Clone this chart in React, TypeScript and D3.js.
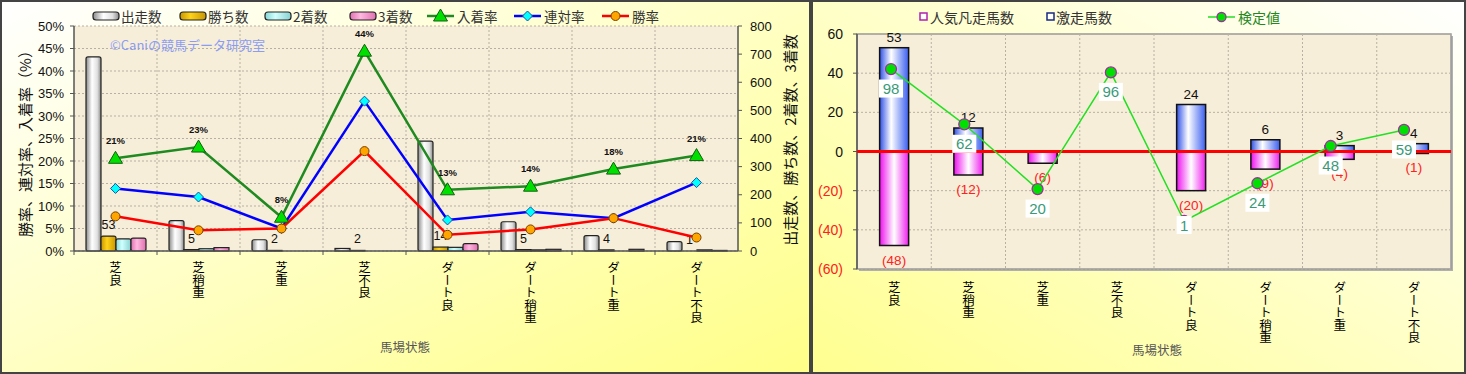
import React from 'react';
import * as d3 from 'd3';

const categories = ['芝良', '芝稍重', '芝重', '芝不良', 'ダート良', 'ダート稍重', 'ダート重', 'ダート不良'];
// left chart counts (right axis)
const runs = [690, 108, 40, 9, 391, 104, 55, 33];
const wins = [53, 5, 2, 2, 14, 5, 4, 1];
const seconds = [43, 8, 0, 1, 13, 4, 0, 4];
const thirds = [46, 12, 1, 1, 26, 6, 6, 2];
// left chart rates (%)
const placeRate = [20.6, 23.1, 7.5, 44.4, 13.6, 14.4, 18.2, 21.2];
const rentaiRate = [13.9, 12.0, 5.0, 33.3, 6.9, 8.7, 7.3, 15.2];
const winRate = [7.7, 4.6, 5.0, 22.2, 3.6, 4.8, 7.3, 3.0];
const placeLabels = ['21%', '23%', '8%', '44%', '13%', '14%', '18%', '21%'];
const leftTicks = [0, 5, 10, 15, 20, 25, 30, 35, 40, 45, 50];
const rightTicks = [0, 100, 200, 300, 400, 500, 600, 700, 800];
// right chart
const gekisou = [53, 12, 0, 0, 24, 6, 3, 4];
const bonsou = [48, 12, 6, 0, 20, 9, 4, 1];
const kentei = [42.1, 13.9, -19.2, 40.4, -35.5, -16.2, 2.8, 11.0];
const kenteiLabels = ['98', '62', '20', '96', '1', '24', '48', '59'];
const rTicks = [60, 40, 20, 0, -20, -40, -60];

const JP = '"Noto Sans CJK JP", "Liberation Sans", sans-serif';
const NUM = '"Liberation Sans", "Noto Sans CJK JP", sans-serif';

function VText({ x, y, text, size = 12.5, color = '#000' }: any) {
  return (
    <text x={x} y={y} fontSize={size} fill={color} fontFamily={JP}
      style={{ writingMode: 'vertical-rl' } as any} textAnchor="start">{text}</text>
  );
}

function LeftChart() {
  const L = 74, R = 738, T = 26, B = 251;
  const x = d3.scaleBand<string>().domain(categories).range([L, R]);
  const yP = d3.scaleLinear().domain([0, 50]).range([B, T]);
  const yC = d3.scaleLinear().domain([0, 800]).range([B, T]);
  const series = [
    { name: '出走数', vals: runs, fill: 'url(#gWhite)' },
    { name: '勝ち数', vals: wins, fill: 'url(#gGold)' },
    { name: '2着数', vals: seconds, fill: 'url(#gCyan)' },
    { name: '3着数', vals: thirds, fill: 'url(#gPink)' },
  ];
  const sub = d3.scaleBand<number>().domain([0, 1, 2, 3]).range([12, 72]);
  const lineGen = (vals: number[]) => d3.line<number>()
    .x((_, i) => (x(categories[i]) as number) + x.bandwidth() / 2)
    .y((v) => yP(v))(vals) as string;
  const cx = (i: number) => (x(categories[i]) as number) + x.bandwidth() / 2;
  const lines = [
    { name: '入着率', vals: placeRate, color: '#1f8a1f', marker: 'tri' },
    { name: '連対率', vals: rentaiRate, color: '#0000ff', marker: 'dia' },
    { name: '勝率', vals: winRate, color: '#ff0000', marker: 'cir' },
  ];
  const marker = (m: string, px: number, py: number, key: any) => {
    if (m === 'tri') return <path key={key} d={`M${px},${py - 7}L${px + 7},${py + 5}L${px - 7},${py + 5}Z`} fill="#00e000" stroke="#106010" strokeWidth={1} />;
    if (m === 'dia') return <path key={key} d={`M${px},${py - 5}L${px + 5},${py}L${px},${py + 5}L${px - 5},${py}Z`} fill="#00ffff" stroke="#2050a0" strokeWidth={1} />;
    return <circle key={key} cx={px} cy={py} r={4.5} fill="#ffa500" stroke="#7a4000" strokeWidth={1} />;
  };
  const barLegX = [93, 180, 265, 350];
  const lineLegX = [427, 514, 602];
  return (
    <g>
      <rect x={1} y={1} width={809} height={372} fill="url(#bgL)" stroke="#444" strokeWidth={2} />
      {/* legend */}
      {series.map((s, i) => (
        <g key={s.name}>
          <rect x={barLegX[i]} y={12} width={26} height={8} rx={3} fill={s.fill} stroke="#222" strokeWidth={1.2} />
          <text x={barLegX[i] + 28} y={21.5} fontSize={13.5} fill="#333" fontFamily={JP}>{s.name}</text>
        </g>
      ))}
      {lines.map((s, i) => (
        <g key={s.name}>
          <line x1={lineLegX[i]} x2={lineLegX[i] + 27} y1={16} y2={16} stroke={s.color} strokeWidth={2.5} />
          {marker(s.marker, lineLegX[i] + 13.5, 16, 'm')}
          <text x={lineLegX[i] + 30} y={21.5} fontSize={13.5} fill="#333" fontFamily={JP}>{s.name}</text>
        </g>
      ))}
      {/* plot bg */}
      <rect x={L} y={T} width={R - L} height={B - T} fill="#f6eed9" />
      {leftTicks.map((t) => (
        <line key={'h' + t} x1={L} x2={R} y1={yP(t)} y2={yP(t)} stroke="#b8b0a0" strokeDasharray="2,2" strokeWidth={1} />
      ))}
      {categories.map((c, i) => i > 0 && (
        <line key={'v' + c} x1={x(c)} x2={x(c)} y1={T} y2={B} stroke="#b8b0a0" strokeDasharray="2,2" strokeWidth={1} />
      ))}
      <text x={110} y={50} fontSize={13} fill="#8c9cf2" fontFamily={JP}>©Caniの競馬データ研究室</text>
      {/* bars */}
      {series.map((s, si) => s.vals.map((v, i) => {
        const bx = (x(categories[i]) as number) + (sub(si) as number);
        const h = B - yC(v);
        if (h < 0.5) return null;
        return <rect key={si + '-' + i} x={bx} y={yC(v)} width={sub.bandwidth()} height={h} rx={h > 4 ? 2 : 0}
          fill={s.fill} stroke="#222" strokeWidth={1.2} />;
      }))}
      {wins.map((v, i) => (
        <text key={'wl' + i} x={(x(categories[i]) as number) + (sub(1) as number) + sub.bandwidth() / 2} y={yC(v) - 7}
          fontSize={12.5} textAnchor="middle" fontFamily={NUM} fill="#111">{v}</text>
      ))}
      {/* axes */}
      <line x1={L} x2={L} y1={T} y2={B} stroke="#555" strokeWidth={1.5} />
      <line x1={R} x2={R} y1={T} y2={B} stroke="#555" strokeWidth={1.5} />
      <line x1={L} x2={R} y1={B} y2={B} stroke="#555" strokeWidth={1.5} />
      {leftTicks.map((t) => (
        <g key={'lt' + t}>
          <line x1={L - 4} x2={L} y1={yP(t)} y2={yP(t)} stroke="#555" />
          <text x={L - 10} y={yP(t) + 4.5} fontSize={13} textAnchor="end" fontFamily={NUM} fill="#111">{t}%</text>
        </g>
      ))}
      {rightTicks.map((t) => (
        <g key={'rt' + t}>
          <line x1={R} x2={R + 4} y1={yC(t)} y2={yC(t)} stroke="#555" />
          <text x={R + 12} y={yC(t) + 4.5} fontSize={13} textAnchor="start" fontFamily={NUM} fill="#111">{t}</text>
        </g>
      ))}
      {categories.map((c, i) => (
        <line key={'xt' + i} x1={(x(c) as number)} x2={(x(c) as number)} y1={B} y2={B + 4} stroke="#555" />
      ))}
      {/* lines */}
      {lines.map((s) => (
        <path key={s.name} d={lineGen(s.vals)} fill="none" stroke={s.color} strokeWidth={2.5} />
      ))}
      {lines.map((s) => s.vals.map((v, i) => marker(s.marker, cx(i), yP(v), s.name + i)))}
      {placeRate.map((v, i) => (
        <text key={'pl' + i} x={cx(i)} y={yP(v) - 14} fontSize={9.5} fontWeight="bold" textAnchor="middle" fontFamily={NUM} fill="#111">{placeLabels[i]}</text>
      ))}
      {/* x labels */}
      {categories.map((c, i) => <VText key={'xl' + i} x={cx(i)} y={261} text={c} />)}
      <text transform="translate(31,140) rotate(-90)" textAnchor="middle" fontSize={15} fontFamily={JP} fill="#111">勝率、連対率、入着率（%）</text>
      <text transform="translate(796,140) rotate(-90)" textAnchor="middle" fontSize={15} fontFamily={JP} fill="#111">出走数、勝ち数、2着数、3着数</text>
      <text x={405} y={352} textAnchor="middle" fontSize={12.5} fontFamily={JP} fill="#555">馬場状態</text>
    </g>
  );
}

function RightChart() {
  const L = 857, R = 1451, T = 34, B = 269;
  const x = d3.scaleBand<string>().domain(categories).range([L, R]);
  const y = d3.scaleLinear().domain([-60, 60]).range([B, T]);
  const xl = d3.scalePoint<string>().domain(categories).range([891, 1404]);
  const bw = 29;
  const cx = (i: number) => (x(categories[i]) as number) + x.bandwidth() / 2;
  const path = d3.line<number>().x((_, i) => xl(categories[i]) as number).y((v) => y(v))(kentei) as string;
  return (
    <g>
      <rect x={812} y={1} width={653} height={372} fill="url(#bgR)" stroke="#444" strokeWidth={2} />
      {/* legend */}
      <rect x={920} y={13} width={7} height={7} fill="#fff" stroke="#b020b0" strokeWidth={1.5} />
      <text x={930} y={22.5} fontSize={14} fill="#333" fontFamily={JP}>人気凡走馬数</text>
      <rect x={1047} y={13} width={7} height={7} fill="#fff" stroke="#1a2a80" strokeWidth={1.5} />
      <text x={1056} y={22.5} fontSize={14} fill="#333" fontFamily={JP}>激走馬数</text>
      <line x1={1208} x2={1235} y1={17} y2={17} stroke="#22e022" strokeWidth={1.5} />
      <circle cx={1221.5} cy={17} r={4.5} fill="#00e000" stroke="#993399" strokeWidth={1.3} />
      <text x={1238} y={22.5} fontSize={14} fill="#228822" fontFamily={JP}>検定値</text>
      {/* plot */}
      <rect x={L + 2} y={T + 2} width={R - L} height={B - T} fill="#b0b0b0" />
      <rect x={L} y={T} width={R - L} height={B - T} fill="#f6eed9" stroke="#999" strokeWidth={1.5} />
      {rTicks.map((t) => (
        <line key={'h' + t} x1={L} x2={R} y1={y(t)} y2={y(t)} stroke="#b8b0a0" strokeDasharray="2,2" />
      ))}
      {categories.map((c, i) => i > 0 && (
        <line key={'v' + c} x1={x(c)} x2={x(c)} y1={T} y2={B} stroke="#b8b0a0" strokeDasharray="2,2" />
      ))}
      <line x1={L} x2={L} y1={T} y2={B} stroke="#555" strokeWidth={1.5} />
      {rTicks.map((t) => (
        <g key={'t' + t}>
          <line x1={L - 4} x2={L} y1={y(t)} y2={y(t)} stroke="#555" />
          <text x={843} y={y(t) + 5} fontSize={14} textAnchor="end" fontFamily={NUM} fill={t < 0 ? '#ff2020' : '#111'}>
            {t < 0 ? `(${-t})` : t}
          </text>
        </g>
      ))}
      {/* bars */}
      {gekisou.map((v, i) => v > 0 && (
        <rect key={'g' + i} x={cx(i) - bw / 2} y={y(v)} width={bw} height={y(0) - y(v)} fill="url(#gBlue)" stroke="#111" strokeWidth={1.5} />
      ))}
      {bonsou.map((v, i) => v > 0 && (
        <rect key={'b' + i} x={cx(i) - bw / 2} y={y(0)} width={bw} height={y(-v) - y(0)} fill="url(#gMag)" stroke="#111" strokeWidth={1.5} />
      ))}
      <line x1={L} x2={R} y1={y(0)} y2={y(0)} stroke="#ff0000" strokeWidth={3} />
      {gekisou.map((v, i) => v > 0 && (
        <text key={'gl' + i} x={cx(i)} y={y(v) - 6} fontSize={13.5} textAnchor="middle" fontFamily={NUM} fill="#111">{v}</text>
      ))}
      {bonsou.map((v, i) => v > 0 && (
        <text key={'bl' + i} x={cx(i)} y={y(-v) + 19} fontSize={13.5} textAnchor="middle" fontFamily={NUM} fill="#ff2020">({v})</text>
      ))}
      {/* line */}
      <path d={path} fill="none" stroke="#22e022" strokeWidth={1.5} />
      {kentei.map((v, i) => (
        <circle key={'k' + i} cx={xl(categories[i])} cy={y(v)} r={5.5} fill="#00e000" stroke="#993399" strokeWidth={1.3} />
      ))}
      {kentei.map((v, i) => {
        const px = xl(categories[i]) as number;
        const py = y(v) + (i === 4 ? 4 : 19.5);
        const w = kenteiLabels[i].length * 9 + 6;
        return (
          <g key={'kl' + i}>
            <rect x={px - w / 2} y={py - 9} width={w} height={18} fill="#fff" />
            <text x={px} y={py + 5.5} fontSize={15} textAnchor="middle" fontFamily={NUM} fill="#3a9a78">{kenteiLabels[i]}</text>
          </g>
        );
      })}
      {categories.map((c, i) => <VText key={'xl' + i} x={cx(i)} y={281} text={c} />)}
      <text x={1157} y={355} textAnchor="middle" fontSize={12.5} fontFamily={JP} fill="#555">馬場状態</text>
    </g>
  );
}

export default function App() {
  return (
    <svg width={1466} height={374} style={{ position: 'absolute', left: 0, top: 0 }}>
      <defs>
        <linearGradient id="bgL" x1="0" y1="0" x2="1" y2="1">
          <stop offset="0" stopColor="#ffffff" />
          <stop offset="1" stopColor="#ffff88" />
        </linearGradient>
        <linearGradient id="bgR" x1="0" y1="1" x2="1" y2="0">
          <stop offset="0" stopColor="#ffff90" />
          <stop offset="1" stopColor="#ffffff" />
        </linearGradient>
        <linearGradient id="gWhite" x1="0" x2="1" y1="0" y2="0">
          <stop offset="0" stopColor="#8a8a8a" />
          <stop offset="0.4" stopColor="#ffffff" />
          <stop offset="0.75" stopColor="#e0e0e0" />
          <stop offset="1" stopColor="#8a8a8a" />
        </linearGradient>
        <linearGradient id="gGold" x1="0" x2="1" y1="0" y2="0">
          <stop offset="0" stopColor="#c89600" />
          <stop offset="0.4" stopColor="#ffd21a" />
          <stop offset="1" stopColor="#c89600" />
        </linearGradient>
        <linearGradient id="gCyan" x1="0" x2="1" y1="0" y2="0">
          <stop offset="0" stopColor="#88d8d8" />
          <stop offset="0.4" stopColor="#d0ffff" />
          <stop offset="1" stopColor="#88d0d0" />
        </linearGradient>
        <linearGradient id="gPink" x1="0" x2="1" y1="0" y2="0">
          <stop offset="0" stopColor="#e070b0" />
          <stop offset="0.4" stopColor="#ffb8e0" />
          <stop offset="1" stopColor="#e070b0" />
        </linearGradient>
        <linearGradient id="gBlue" x1="0" x2="1" y1="0" y2="0">
          <stop offset="0" stopColor="#2f50e6" />
          <stop offset="0.4" stopColor="#ffffff" />
          <stop offset="1" stopColor="#3a5ef0" />
        </linearGradient>
        <linearGradient id="gMag" x1="0" x2="1" y1="0" y2="0">
          <stop offset="0" stopColor="#ee10ee" />
          <stop offset="0.5" stopColor="#ffffff" />
          <stop offset="1" stopColor="#ee20ee" />
        </linearGradient>
      </defs>
      <LeftChart />
      <RightChart />
    </svg>
  );
}
